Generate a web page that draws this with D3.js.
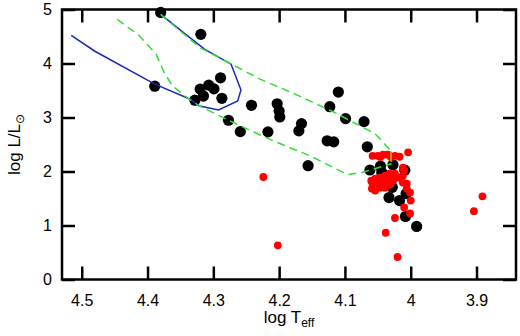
<!DOCTYPE html>
<html><head><meta charset="utf-8">
<script src="https://cdn.jsdelivr.net/npm/d3@7"></script>
<style>body{margin:0;background:#fff}svg{display:block}</style>
</head><body>
<svg id="c" width="520" height="336"></svg>
<script>
// ---- data ----
const xTicks = [4.5, 4.4, 4.3, 4.2, 4.1, 4.0, 3.9];
const xTickLabels = ["4.5","4.4","4.3","4.2","4.1","4","3.9"];
const yTicks = [0, 1, 2, 3, 4, 5];
const yTickLabels = ["0","1","2","3","4","5"];

// black points [logTeff, logL]
const blackStars = [
  [4.380,4.946],[4.319,4.54],[4.389,3.58],[4.289,3.735],[4.307,3.60],[4.299,3.53],
  [4.320,3.526],[4.315,3.397],[4.328,3.32],[4.287,3.355],[4.242,3.226],[4.277,2.949],
  [4.259,2.739],[4.203,3.255],[4.200,3.121],[4.199,3.01],[4.217,2.734],[4.166,2.887],
  [4.170,2.752],[4.110,3.471],[4.123,3.20],[4.099,2.979],[4.127,2.568],[4.117,2.549],
  [4.156,2.107],[4.071,2.923],[4.066,2.457],[4.062,2.028],[4.046,2.098],[4.027,2.125],
  [4.009,2.024],[4.028,1.707],[4.033,1.517],[4.017,1.462],[4.007,1.591],[4.008,1.167],
  [3.991,0.982],[4.044,1.98]
];
// red points [logTeff, logL]
const redStars = [
  [4.058,2.291],[4.050,2.291],[4.042,2.310],[4.035,2.310],[4.024,2.291],[4.017,2.273],[4.004,2.356],
  [4.046,2.27],[4.030,2.27],
  [4.012,2.070],[4.010,2.03],
  [4.054,1.867],[4.047,1.886],[4.039,1.922],[4.032,1.959],[4.024,1.959],[4.020,1.886],[4.012,1.922],
  [4.044,1.85],[4.036,1.87],[4.028,1.90],[4.060,1.83],
  [4.058,1.775],[4.050,1.794],[4.042,1.794],[4.035,1.830],[4.027,1.830],[4.012,1.794],[4.006,1.775],
  [4.054,1.646],[4.047,1.701],[4.039,1.701],[4.059,1.683],[4.031,1.76],
  [4.006,1.683],[4.001,1.609],[4.000,1.462],[4.010,1.333],[4.001,1.222],
  [4.024,1.139],[4.038,0.866],[4.020,0.417],[4.224,1.898],[4.202,0.632],[3.891,1.541],[3.904,1.265]
];
// blue solid track
const blueTrack = [
  [4.516,4.522],[4.480,4.227],[4.389,3.618],[4.336,3.342],[4.321,3.213],[4.292,3.139],
  [4.263,3.305],[4.258,3.508],[4.273,3.987],[4.313,4.263],[4.340,4.522],[4.380,4.909]
];
// green dashed tracks
const greenTrackA = [
  [4.446,4.817],[4.413,4.522],[4.387,4.171],[4.375,3.839],[4.362,3.582],[4.339,3.361],
  [4.321,3.213],[4.278,2.955],[4.249,2.789],[4.209,2.568],[4.153,2.291],[4.096,1.941],
  [4.073,1.987],[4.029,2.144]
];
const greenTrackB = [
  [4.380,4.909],[4.321,4.300],[4.275,4.005],[4.229,3.710],[4.179,3.452],[4.114,3.083],
  [4.054,2.697],[4.041,2.530],[4.029,2.364]
];
const orangeTrack = [[4.030,2.37],[4.030,2.18]];

// ---- chart ----
const svg = d3.select("#c");
const L = 62, R = 516, T = 9.5, B = 279.5;
const x = d3.scaleLinear().domain([4.53, 3.84]).range([L, R]);
const y = d3.scaleLinear().domain([0, 5]).range([B, T]);
const font = "'Liberation Sans', Arial, Helvetica, sans-serif";

const line = d3.line().x(d => x(d[0])).y(d => y(d[1]));

// points
svg.append("g").selectAll("circle").data(blackStars).join("circle")
  .attr("cx", d => x(d[0])).attr("cy", d => y(d[1])).attr("r", 5.6).attr("fill", "#000");
svg.append("g").selectAll("circle").data(redStars).join("circle")
  .attr("cx", d => x(d[0])).attr("cy", d => y(d[1])).attr("r", 3.9).attr("fill", "#ff0000");

// tracks
svg.append("path").datum(blueTrack).attr("d", line).attr("fill", "none")
  .attr("stroke", "#1c2bb5").attr("stroke-width", 1.5);
[greenTrackA, greenTrackB].forEach(tr => {
  svg.append("path").datum(tr).attr("d", line).attr("fill", "none")
    .attr("stroke", "#33dd33").attr("stroke-width", 1.5).attr("stroke-dasharray", "8,5");
});
svg.append("path").datum(orangeTrack).attr("d", line).attr("fill", "none")
  .attr("stroke", "#d08a10").attr("stroke-width", 2);

// axes
const tk = 13;
const axB = d3.axisBottom(x).tickValues(xTicks).tickSizeInner(-tk).tickSizeOuter(0).tickPadding(15)
  .tickFormat((d, i) => xTickLabels[i]);
const axT = d3.axisTop(x).tickValues(xTicks).tickSizeInner(-tk).tickSizeOuter(0).tickFormat("");
const axLft = d3.axisLeft(y).tickValues(yTicks).tickSizeInner(-tk).tickSizeOuter(0).tickPadding(10)
  .tickFormat((d, i) => yTickLabels[i]);
const axRgt = d3.axisRight(y).tickValues(yTicks).tickSizeInner(-tk).tickSizeOuter(0).tickFormat("");

function style(g) {
  g.select(".domain").remove();
  g.selectAll("line").attr("stroke", "#000").attr("stroke-width", 2.5);
  g.selectAll("text").attr("fill", "#000").style("font-family", font).style("font-size", "16px");
}
svg.append("g").attr("transform", `translate(0,${B})`).call(axB).call(style);
svg.append("g").attr("transform", `translate(0,${T})`).call(axT).call(style);
svg.append("g").attr("transform", `translate(${L},0)`).call(axLft).call(style);
svg.append("g").attr("transform", `translate(${R},0)`).call(axRgt).call(style);

// frame
svg.append("rect").attr("x", L).attr("y", T).attr("width", R - L).attr("height", B - T)
  .attr("fill", "none").attr("stroke", "#000").attr("stroke-width", 2.5);

// axis titles
const xt = svg.append("text").attr("x", (L + R) / 2).attr("y", 323).attr("text-anchor", "middle")
  .style("font-family", font).style("font-size", "17px").attr("fill", "#000");
xt.append("tspan").text("log T");
xt.append("tspan").text("eff").attr("baseline-shift", "-30%").style("font-size", "12px");

const yt = svg.append("text").attr("transform", `translate(20,${(T + B) / 2}) rotate(-90)`)
  .attr("text-anchor", "middle").style("font-family", font).style("font-size", "17px").attr("fill", "#000");
yt.append("tspan").text("log L/L");
yt.append("tspan").text("⊙").attr("baseline-shift", "-30%").style("font-size", "12px");
</script>
</body></html>
